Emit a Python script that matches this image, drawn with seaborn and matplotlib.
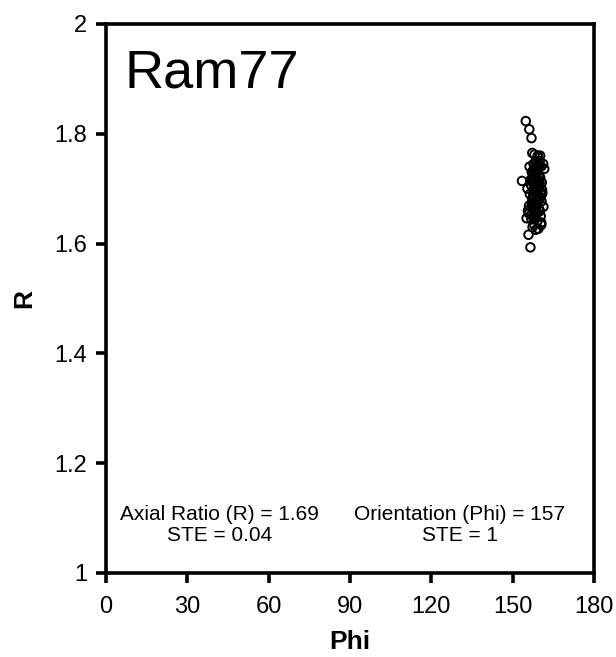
import matplotlib
matplotlib.use('Agg')
import matplotlib.pyplot as plt
import seaborn as sns
import pandas as pd

# estimated particle measurements (orientation in degrees, axial ratio)
phi = [154.9, 156.2, 157.0, 157.3, 153.5, 156.6, 155.9, 160.6, 161.3, 155.2,
       158.1, 159.4, 160.0, 158.7, 157.8, 159.8, 160.5, 161.7, 158.3, 157.1,
       158.9, 159.7, 158.0, 160.2, 157.5, 156.7, 159.2, 160.8, 158.5, 156.9,
       159.5, 158.8, 159.9, 157.7, 158.2, 159.1, 161.0, 156.4, 157.9, 159.3,
       160.3, 157.3, 158.6, 159.6, 160.7, 157.2, 158.4, 159.0, 156.1, 161.4,
       158.7, 159.8, 157.6, 160.1, 158.1, 158.9, 156.8, 160.4, 158.3, 157.0,
       159.2, 160.6, 157.9, 157.4, 159.5, 155.7, 158.8, 160.0, 157.8, 159.1,
       156.3, 158.5, 160.9, 159.7, 157.1, 158.2, 160.2, 156.0, 157.9, 159.4,
       157.5, 160.8, 158.6, 155.5, 159.3, 158.0, 158.9, 157.7, 158.4, 159.6,
       157.3, 158.8, 159.2, 158.1, 157.8, 159.0, 158.5, 157.4, 159.8, 158.3,
       158.7, 157.6, 159.1, 157.9, 159.4]
R = [1.823, 1.808, 1.792, 1.765, 1.714, 1.593, 1.616, 1.634, 1.745, 1.646,
     1.762, 1.757, 1.750, 1.748, 1.745, 1.742, 1.740, 1.736, 1.733, 1.730,
     1.728, 1.725, 1.722, 1.720, 1.718, 1.716, 1.713, 1.711, 1.709, 1.706,
     1.704, 1.702, 1.700, 1.698, 1.696, 1.694, 1.692, 1.690, 1.688, 1.686,
     1.684, 1.682, 1.680, 1.679, 1.677, 1.675, 1.673, 1.671, 1.669, 1.667,
     1.665, 1.663, 1.661, 1.659, 1.657, 1.655, 1.652, 1.650, 1.647, 1.644,
     1.641, 1.638, 1.635, 1.630, 1.627, 1.660, 1.690, 1.710, 1.735, 1.700,
     1.740, 1.720, 1.698, 1.685, 1.670, 1.705, 1.760, 1.655, 1.745, 1.715,
     1.675, 1.690, 1.625, 1.700, 1.760, 1.668, 1.678, 1.688, 1.697, 1.707,
     1.717, 1.727, 1.737, 1.672, 1.683, 1.693, 1.703, 1.712, 1.724, 1.662,
     1.653, 1.732, 1.743, 1.695, 1.681]

xticks = [0, 30, 60, 90, 120, 150, 180]
yticks = [1, 1.2, 1.4, 1.6, 1.8, 2]
ytick_labels = ['1', '1.2', '1.4', '1.6', '1.8', '2']

df = pd.DataFrame({'Phi': phi, 'R': R})

sns.set_style('white')
plt.rcParams['font.family'] = ['Liberation Sans', 'DejaVu Sans']
plt.rcParams['text.color'] = 'black'
plt.rcParams['axes.labelcolor'] = 'black'

fig = plt.figure(figsize=(6.16, 6.57), dpi=100)
ax = fig.add_axes([0.172, 0.128, 0.792, 0.8356])

sns.scatterplot(x='Phi', y='R', data=df, ax=ax, marker='o', s=38,
                facecolor='none', edgecolor='black', linewidth=1.4)

ax.set_xlim(0, 180)
ax.set_ylim(1, 2)
ax.set_xticks(xticks)
ax.set_yticks(yticks)
ax.set_yticklabels(ytick_labels)
ax.tick_params(axis='both', direction='out', length=7.5, width=2.6, labelsize=17,
               colors='black', bottom=True, left=True, pad=6)
ax.tick_params(axis='x', pad=9)
for sp in ax.spines.values():
    sp.set_linewidth(2.6)
    sp.set_color('black')

ax.set_xlabel('Phi', fontsize=19, fontweight='bold', labelpad=9)
ax.set_ylabel('R', fontsize=19, fontweight='bold', labelpad=13)

ax.text(0.038, 0.884, 'Ram77', transform=ax.transAxes, fontsize=39,
        ha='left', va='baseline')
ax.text(42, 1.087, 'Axial Ratio (R) = 1.69\nSTE = 0.04', fontsize=15,
        ha='center', va='center', linespacing=1.15)
ax.text(130.6, 1.087, 'Orientation (Phi) = 157\nSTE = 1', fontsize=15,
        ha='center', va='center', linespacing=1.15)

plt.savefig('out.png', dpi=100)
